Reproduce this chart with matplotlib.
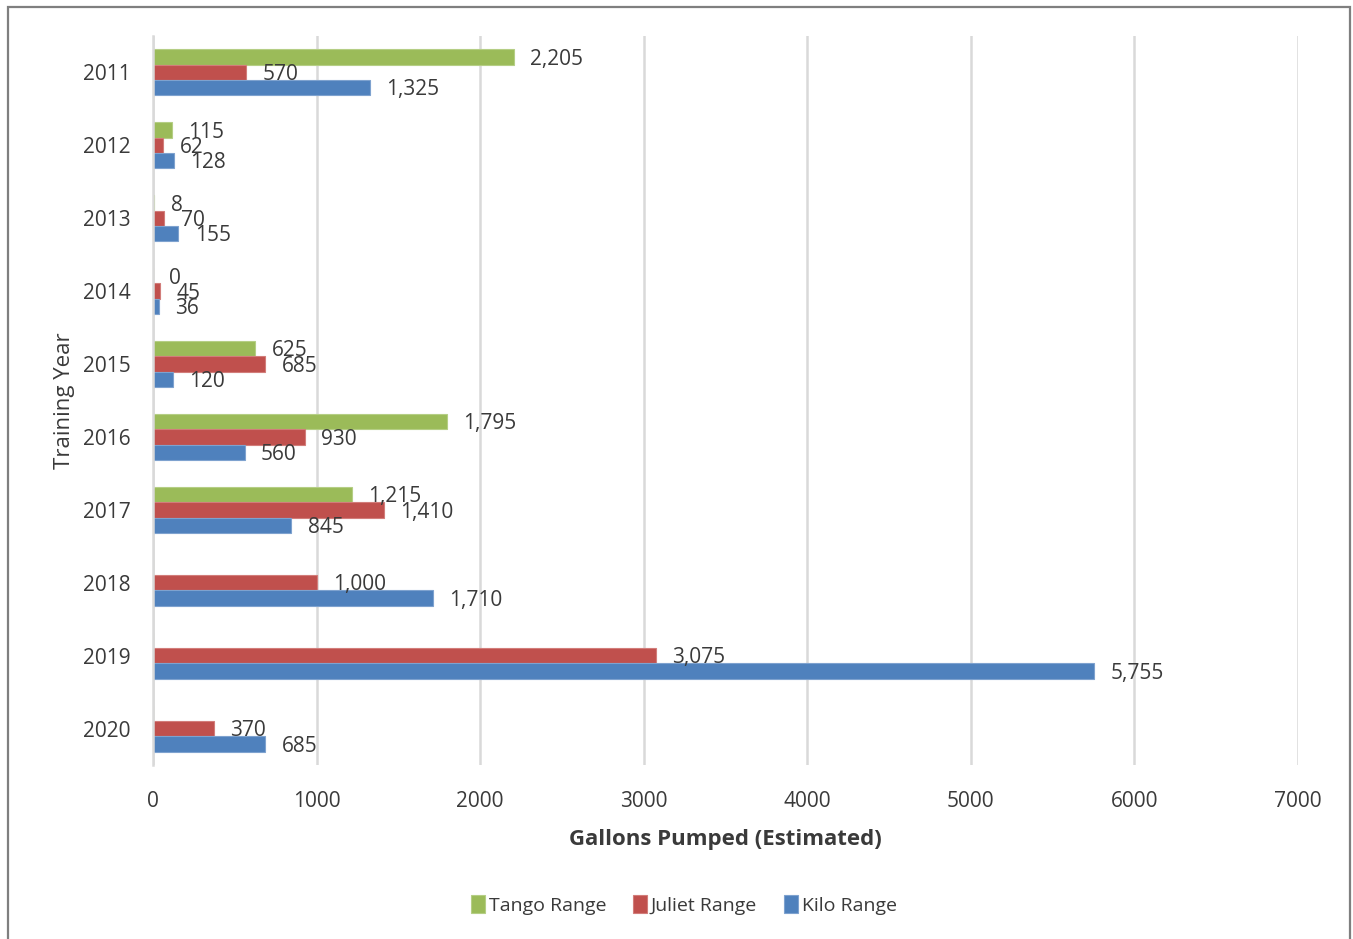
import matplotlib

matplotlib.use("Agg")
import matplotlib.pyplot as plt
from matplotlib.patches import Rectangle
import numpy as np

plt.rcParams['font.family'] = ['Open Sans', 'DejaVu Sans']

years = ["2011", "2012", "2013", "2014", "2015", "2016", "2017", "2018", "2019", "2020"]
tango = [2205, 115, 8, 0, 625, 1795, 1215, None, None, None]
juliet = [570, 62, 70, 45, 685, 930, 1410, 1000, 3075, 370]
kilo = [1325, 128, 155, 36, 120, 560, 845, 1710, 5755, 685]

series = [
    ("Tango Range", tango, "#9BBB59", "#B5CE85"),
    ("Juliet Range", juliet, "#C0504D", "#D27D7A"),
    ("Kilo Range", kilo, "#4F81BD", "#7EA2CF"),
]

text_col = "#3A3A3A"

fig = plt.figure(figsize=(13.53, 9.39), dpi=100)
ax = fig.add_axes([153 / 1353, 1 - 765 / 939, (1298 - 153) / 1353, (765 - 36) / 939])

# outer chart frame
fig.patches.append(Rectangle((8 / 1353, -0.01), (1350 - 8) / 1353, 1 - 7 / 939 + 0.01,
                             transform=fig.transFigure, fill=False,
                             edgecolor="#7F7F7F", linewidth=1.6))

y = np.arange(len(years))
h = 0.21
for k, (name, vals, col, edge) in enumerate(series):
    pos = y + (k - 1) * h
    v = np.array([np.nan if a is None else a for a in vals], dtype=float)
    ax.barh(pos, np.nan_to_num(v), height=h, color=col, edgecolor=edge,
            linewidth=0.8, label=name)
    for p, a in zip(pos, vals):
        if a is None:
            continue
        ax.text(a + 100, p + 0.03, f"{a:,}", va="center", ha="left",
                fontsize=15, color=text_col)

ax.set_xlim(0, 7000)
ax.set_ylim(len(years) - 0.5, -0.5)
ax.set_xticks(range(0, 7001, 1000))
ax.set_yticks(y)
ax.set_yticklabels(years)
ax.grid(axis="x", color="#D9D9D9", linewidth=1.8)
ax.set_axisbelow(True)
for s in ["top", "right", "bottom"]:
    ax.spines[s].set_visible(False)
ax.spines["left"].set_color("#D9D9D9")
ax.spines["left"].set_linewidth(1.8)
ax.tick_params(axis="both", length=0, labelsize=15, labelcolor=text_col)
ax.tick_params(axis="y", pad=16)
ax.tick_params(axis="x", pad=19)

ax.set_xlabel("Gallons Pumped (Estimated)", fontsize=16, fontweight="bold",
              color=text_col, labelpad=12)
ax.set_ylabel("Training Year", fontsize=16, color=text_col, labelpad=6)

fig.legend(loc="center", bbox_to_anchor=(684 / 1353, 1 - 905 / 939), ncol=3,
           frameon=False, fontsize=14, handlelength=0.7, handleheight=1.0,
           handletextpad=0.2, columnspacing=1.4, labelcolor=text_col)

fig.savefig("out.png", dpi=100)
